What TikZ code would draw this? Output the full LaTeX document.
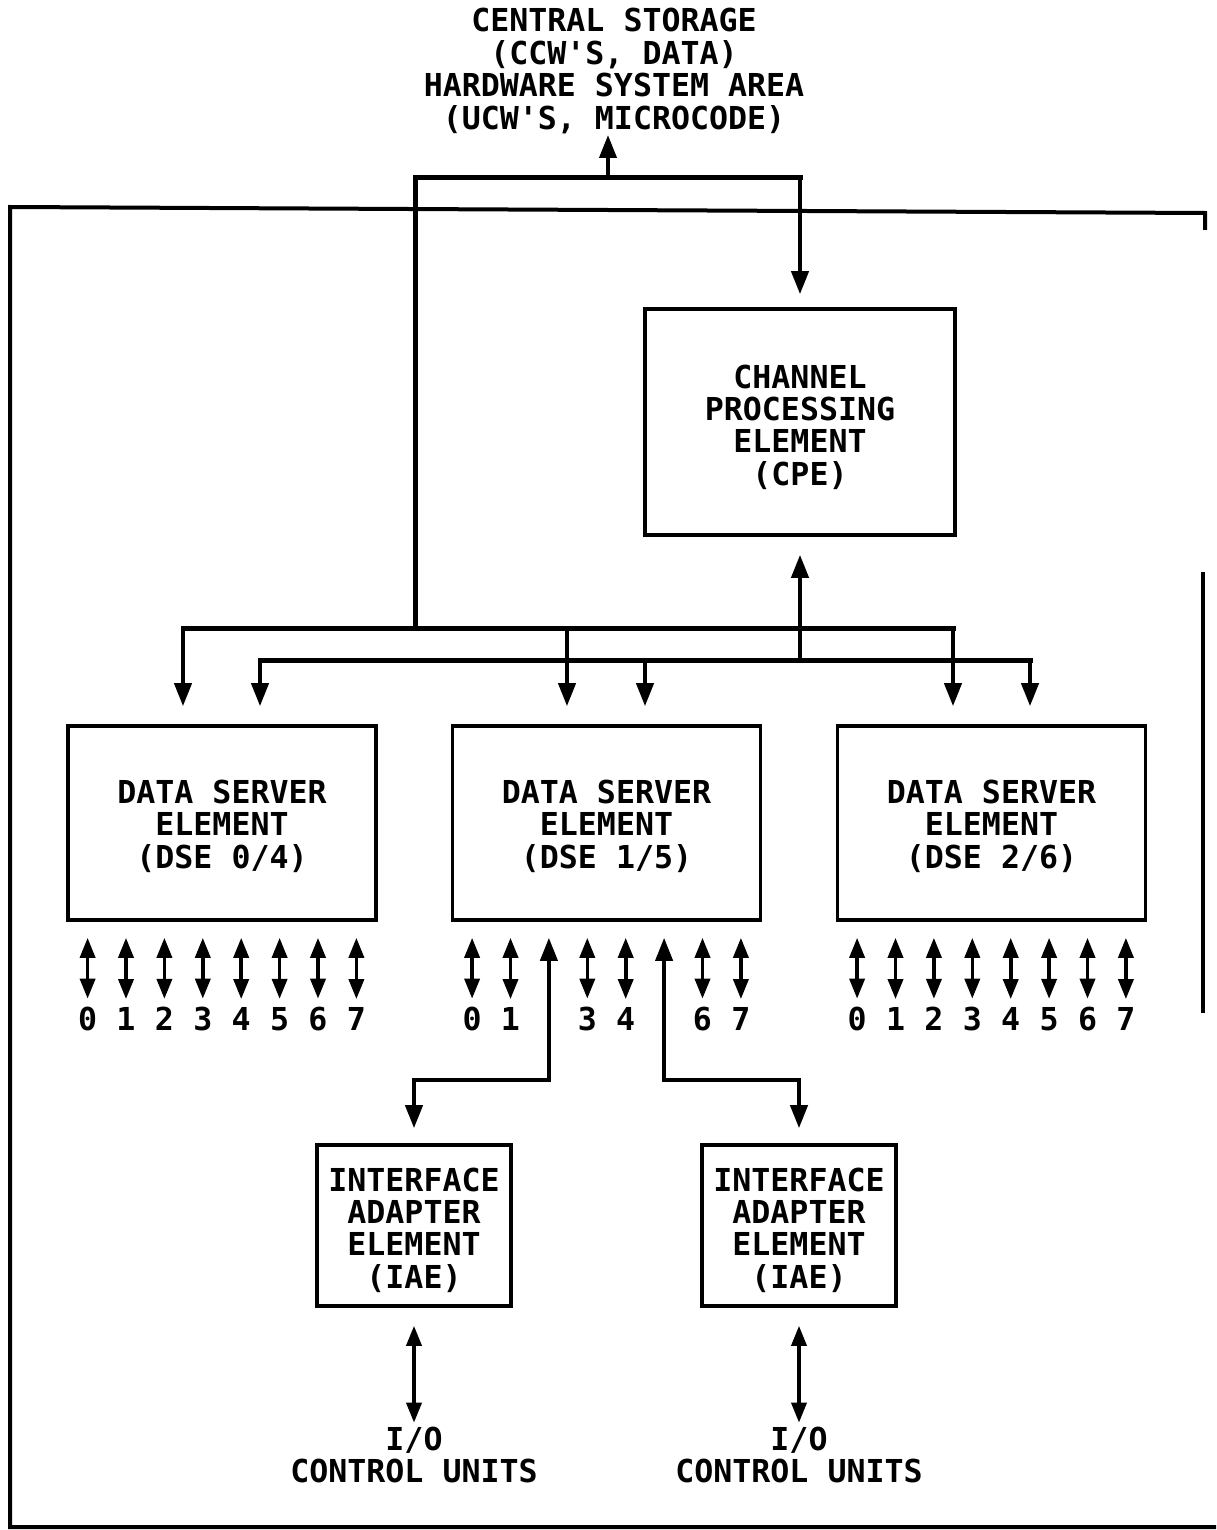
\documentclass[tikz,border=0pt]{standalone}
\usepackage{fontspec}
\newfontfamily\ibm{DejaVu Sans Mono}
\usetikzlibrary{arrows.meta,calc}
\begin{document}
\begin{tikzpicture}[x=1pt,y=-1pt,
  txt/.style={font=\ibm\bfseries\fontsize{31.6}{32.4}\selectfont, align=center, inner sep=0pt},
  box/.style={draw, line width=3.6pt},
  bus/.style={line width=5pt, line cap=rect},
  arr/.style={line width=4pt, -{Triangle[width=17pt,length=23pt]}},
  darr/.style={line width=3.6pt, {Triangle[width=15pt,length=20pt]}-{Triangle[width=15pt,length=20pt]}},
  barr/.style={line width=4pt, {Triangle[width=17pt,length=23pt]}-{Triangle[width=17pt,length=23pt]}},
  frameline/.style={line width=4pt}]
\useasboundingbox (0,0) rectangle (1216,1530);

% texts and boxes
\node[txt] (cs) at (614,71) {CENTRAL STORAGE\\(CCW'S, DATA)\\HARDWARE SYSTEM AREA\\(UCW'S, MICROCODE)};
\node[box, minimum width=310pt, minimum height=226pt] (cpe) at (800,422) {};
\node[txt] (cpet) at (800,427) {CHANNEL\\PROCESSING\\ELEMENT\\(CPE)};
\node[box, minimum width=308pt, minimum height=194pt] (dse0) at (222,823) {};
\node[txt] (dse0t) at (222,826) {DATA SERVER\\ELEMENT\\(DSE 0/4)};
\node[box, minimum width=308pt, minimum height=194pt] (dse1) at (606.5,823) {};
\node[txt] (dse1t) at (606.5,826) {DATA SERVER\\ELEMENT\\(DSE 1/5)};
\node[box, minimum width=308pt, minimum height=194pt] (dse2) at (991.5,823) {};
\node[txt] (dse2t) at (991.5,826) {DATA SERVER\\ELEMENT\\(DSE 2/6)};
\node[box, minimum width=194pt, minimum height=161pt] (iae1) at (414,1225.5) {};
\node[txt] (iae1t) at (414,1230) {INTERFACE\\ADAPTER\\ELEMENT\\(IAE)};
\node[box, minimum width=194pt, minimum height=161pt] (iae2) at (799,1225.5) {};
\node[txt] (iae2t) at (799,1230) {INTERFACE\\ADAPTER\\ELEMENT\\(IAE)};
\node[txt] (io1) at (414,1455) {I/O\\CONTROL UNITS};
\node[txt] (io2) at (799,1455) {I/O\\CONTROL UNITS};

% bus coordinates
\coordinate (ta) at (415,178);
\coordinate (tb) at (800,178);
\coordinate (tm) at (608,178);
\coordinate (csin) at (608,135);
\coordinate (b1L) at (183,628);
\coordinate (b1m) at (567,628);
\coordinate (b1R) at (953,628);
\coordinate (b1j) at (415,628);
\coordinate (b2L) at (260,660);
\coordinate (b2m) at (645,660);
\coordinate (b2R) at (1030,660);
\coordinate (b2j) at (800,660);

% top bus
\draw[bus] (b1j) -- (ta) -- (tb);
\draw[arr] (tm) -- (csin);
\draw[arr, shorten >=13pt] (tb) -- (cpe.north);

% DSE buses
\draw[bus] (b1L) -- (b1R);
\draw[bus] (b2L) -- (b2R);
\draw[arr, shorten >=18pt] (b2j) -- (cpe.south);
\foreach \c/\d in {b1L/dse0,b2L/dse0,b1m/dse1,b2m/dse1,b1R/dse2,b2R/dse2}{
  \draw[arr, shorten >=18pt] (\c) -- (\c |- \d.north);
}

% channel arrows
\foreach \d in {dse0,dse2}{
  \foreach \i in {0,...,7}{
    \node[txt] (\d n\i) at ($(\d.south)+({(\i-3.5)*38.4},97)$) {\i};
    \draw[darr, shorten >=8pt] ($(\d.south)+({(\i-3.5)*38.4},16)$) -- (\d n\i.north);
  }
}
\foreach \i in {0,1,3,4,6,7}{
  \node[txt] (dse1n\i) at ($(dse1.south)+({(\i-3.5)*38.4},97)$) {\i};
  \draw[darr, shorten >=8pt] ($(dse1.south)+({(\i-3.5)*38.4},16)$) -- (dse1n\i.north);
}

% links to IAEs
\coordinate (m2) at ($(dse1.south)+(-57.6,16)$);
\coordinate (m5) at ($(dse1.south)+(57.6,16)$);
\coordinate (k2) at ($(dse1.south)+(-57.6,158.5)$);
\coordinate (k5) at ($(dse1.south)+(57.6,158.5)$);
\draw[barr, shorten >=15pt] (m2) -- (k2) -| (iae1.north);
\draw[barr, shorten >=15pt] (m5) -- (k5) -| (iae2.north);

% IAE to I/O
\draw[darr, shorten >=4pt] ($(iae1.south)+(0,18)$) -- (io1.north);
\draw[darr, shorten >=4pt] ($(iae2.south)+(0,18)$) -- (io2.north);

% frame
\coordinate (f1) at (10,207);
\coordinate (f2) at (1205,213);
\coordinate (f3) at (1205,230);
\coordinate (f4) at (10,1527);
\coordinate (f5) at (1216,1527);
\coordinate (r1) at (1203,572);
\coordinate (r2) at (1203,1013);
\draw[frameline] (f3) -- (f2) -- (f1) -- (f4) -- (f5);
\draw[frameline] (r1) -- (r2);
\end{tikzpicture}
\end{document}
